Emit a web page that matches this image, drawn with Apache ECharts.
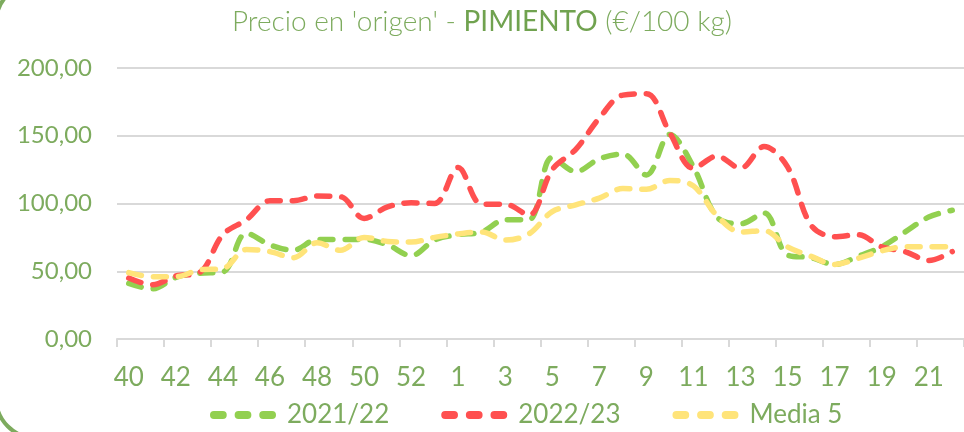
<!DOCTYPE html>
<html>
<head>
  <meta charset="utf-8"/>
  <script src="https://cdn.jsdelivr.net/npm/echarts@6/dist/echarts.min.js"></script>
  <style>
    html, body { margin: 0; padding: 0; background: #fff; }
  </style>
</head>
<body>
  <div id="chartmain" style="width:964px; height:432px;"></div>

  <script type="text/javascript">
    // semanas de campaña (40..53 y 1..22)
    var weeks = ['40', '41', '42', '43', '44', '45', '46', '47', '48', '49', '50', '51', '52', '53',
                 '1', '2', '3', '4', '5', '6', '7', '8', '9', '10', '11', '12', '13', '14', '15',
                 '16', '17', '18', '19', '20', '21', '22'];

    var s2122 = [41, 37, 45.5, 48.5, 49.5, 78, 69.5, 65.5, 73.5, 73.5, 73.5, 69.5, 61.5, 73,
                 77, 79, 88, 88, 134, 123.5, 133, 136.5, 121, 151, 127, 90, 85, 93, 62,
                 60, 55, 61, 68, 79, 90, 95];

    var s2223 = [45, 40, 46.5, 49, 77, 88, 102, 102, 105.5, 105, 89, 97.5, 100.5, 100,
                 126.5, 99.5, 99.5, 91.5, 125, 140, 163, 180, 181, 152, 126, 135, 126, 142, 127,
                 84, 75.5, 77, 68, 64.5, 58, 64.5];

    var media5 = [49, 46, 46, 51, 52, 66, 64.5, 60, 71, 65.5, 75, 72, 71.5, 75,
                  77.5, 79, 73, 77.5, 94, 99, 104, 111, 110.5, 117, 113, 91, 79, 80, 68,
                  61, 55, 59.5, 65, 68, 68, 68];

    var seriesNames = ['2021/22', '2022/23', 'Media 5'];
    var seriesColors = ['#92D050', '#FF5050', '#FFE47A'];

    var txtColor = '#7DAB5E';
    var font = 'Lato';

    // icono de leyenda: tres trazos redondeados
    var dashIcon = 'path://M4,0h9a4,4 0 0 1 0,8h-9a4,4 0 0 1 0,-8z' +
                   'M29,0h9a4,4 0 0 1 0,8h-9a4,4 0 0 1 0,-8z' +
                   'M54,0h9a4,4 0 0 1 0,8h-9a4,4 0 0 1 0,-8z';

    function lineSerie(i, data) {
      return {
        name: seriesNames[i],
        type: 'line',
        smooth: 0.35,
        symbol: 'none',
        data: data,
        itemStyle: { color: seriesColors[i] },
        lineStyle: { color: seriesColors[i], width: 5.5, type: [13, 12], cap: 'round' }
      };
    }

    var option = {
      animation: false,
      title: {
        left: 'center',
        top: 3,
        text: "{a|Precio en 'origen' - }{b|PIMIENTO}{a| (€/100 kg)}",
        textStyle: {
          rich: {
            a: { fontFamily: font, fontWeight: 300, fontSize: 28, color: txtColor },
            b: { fontFamily: font, fontWeight: 400, fontSize: 28, color: '#70A24F' }
          }
        }
      },
      legend: {
        data: seriesNames,
        icon: dashIcon,
        left: 205,
        top: 397,
        itemWidth: 66,
        itemHeight: 9,
        itemGap: 52,
        itemStyle: { borderWidth: 0 },
        textStyle: { fontFamily: font, fontSize: 26, color: txtColor, padding: [0, 0, 0, 6] }
      },
      graphic: [{
        type: 'rect',
        shape: { x: -4, y: -17, width: 1100, height: 455, r: 40 },
        style: { fill: 'none', stroke: '#7DAB5E', lineWidth: 4 },
        silent: true
      }],
      grid: { left: 117, top: 68, width: 855, bottom: 93 },
      xAxis: {
        type: 'category',
        data: weeks,
        boundaryGap: true,
        axisLine: { lineStyle: { color: '#D9D9D9', width: 2 } },
        axisTick: { show: true, length: 8, lineStyle: { color: '#D9D9D9', width: 2 } },
        axisLabel: { interval: 1, margin: 26, fontFamily: font, fontSize: 26, color: txtColor }
      },
      yAxis: {
        type: 'value',
        min: 0,
        max: 200,
        interval: 50,
        axisLine: { show: false },
        axisTick: { show: false },
        splitLine: { lineStyle: { color: '#D9D9D9', width: 2 } },
        axisLabel: {
          margin: 25,
          fontFamily: font,
          fontSize: 24,
          color: txtColor,
          formatter: function (v) { return v.toFixed(2).replace('.', ','); }
        }
      },
      series: [
        lineSerie(0, s2122),
        lineSerie(1, s2223),
        lineSerie(2, media5)
      ]
    };

    var myChart = echarts.init(document.getElementById('chartmain'));
    myChart.setOption(option);
  </script>
</body>
</html>
